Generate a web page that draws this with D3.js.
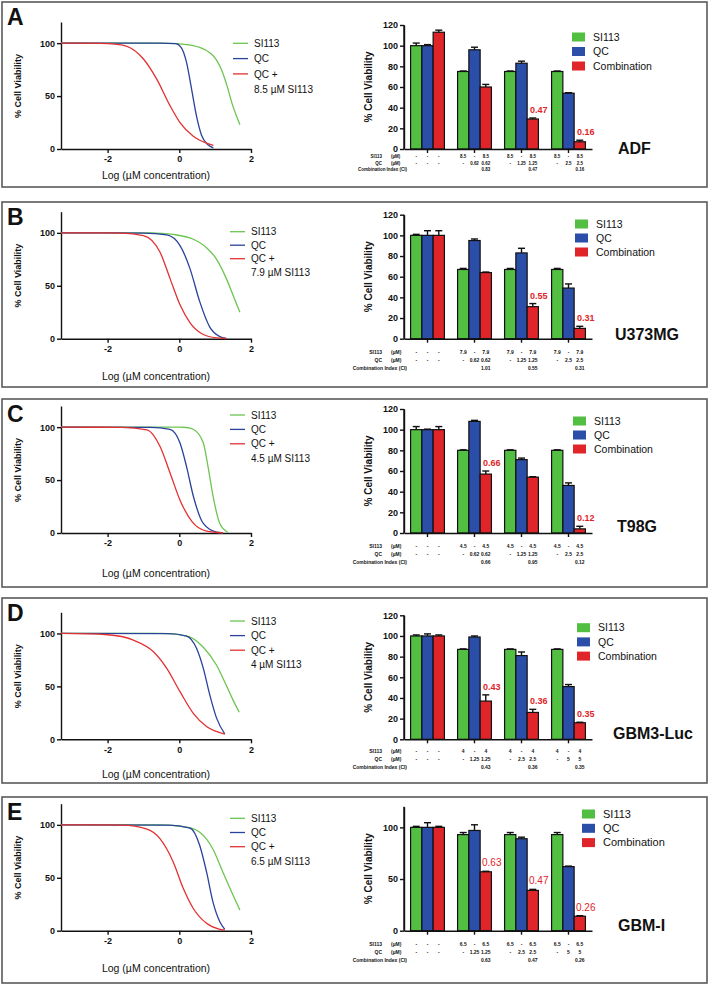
<!DOCTYPE html>
<html>
<head>
<meta charset="utf-8">
<script src="https://cdn.jsdelivr.net/npm/d3@7"></script>
<style>
  body { margin: 0; background: #fff; }
  text { font-family: "Liberation Sans", Arial, sans-serif; fill: #111; }
</style>
</head>
<body>
<svg id="fig"></svg>
<script>
// ---- data ----
var panelLetters = ["A", "B", "C", "D", "E"];
var cellLines = ["ADF", "U373MG", "T98G", "GBM3-Luc", "GBM-I"];
var seriesNames = ["SI113", "QC", "Combination"];
var groups = ["ctrl", "low", "mid", "high"];

var si113Dose = ["8.5", "7.9", "4.5", "4", "6.5"];
var qcDose = [
    ["0.62", "1.25", "2.5"],
    ["0.62", "1.25", "2.5"],
    ["0.62", "1.25", "2.5"],
    ["1.25", "2.5", "5"],
    ["1.25", "2.5", "5"]
];
var ciValue = [
    ["0.83", "0.47", "0.16"],
    ["1.01", "0.55", "0.31"],
    ["0.66", "0.95", "0.12"],
    ["0.43", "0.36", "0.35"],
    ["0.63", "0.47", "0.26"]
];
var ciShown = [
    [false, true, true],
    [false, true, true],
    [true, false, true],
    [true, true, true],
    [true, true, true]
];

var si113Mean = [[100, 75, 75, 75], [100, 67, 67, 67], [100, 80, 80, 80], [100, 87, 87, 87], [100, 93, 93, 93]];
var si113Err = [[2.5, 0.5, 0.5, 0.5], [1, 1, 1, 1], [3, 0.5, 0.5, 0.5], [1, 0.5, 0.5, 0.5], [1, 2, 2, 2]];
var qcMean = [[100, 96, 83, 54], [100, 95, 83, 49], [100, 108, 71, 46], [100, 99, 81, 51], [100, 97, 89, 62]];
var qcErr = [[1, 2.5, 2, 0.5], [4.5, 1.5, 4.5, 4], [0.5, 1, 1.5, 2.5], [2, 1, 3.5, 2], [4.5, 5.5, 1.5, 0.5]];
var comboMean = [[113, 60, 29, 7], [100, 64, 31, 10], [100, 57, 54, 4], [100, 37, 26, 16], [100, 57, 39, 14]];
var comboErr = [[2, 2.5, 1, 1.5], [4.5, 0.5, 3, 2], [3, 3, 0.5, 2.5], [1, 6, 3, 0.5], [1, 0.5, 1, 0.5]];

var barTicks = [
    [0, 20, 40, 60, 80, 100, 120],
    [0, 20, 40, 60, 80, 100, 120],
    [0, 20, 40, 60, 80, 100, 120],
    [0, 20, 40, 60, 80, 100, 120],
    [0, 50, 100]
];

// dose-response curves: [log uM, % viability]
var curveSI113 = [
    [[-3.3, 100], [-1, 100], [-0.35, 99.8], [0.1, 99], [0.57, 96], [0.85, 91], [1.04, 84], [1.2, 73], [1.31, 62], [1.5, 40], [1.69, 23]],
    [[-3.3, 100], [-0.8, 100], [-0.17, 98.5], [0.39, 94], [0.76, 86], [1.04, 75], [1.31, 57], [1.5, 41], [1.69, 25]],
    [[-3.3, 100], [0, 100], [0.2, 99.7], [0.39, 98], [0.67, 85], [0.8, 63], [0.94, 35], [1.13, 9], [1.36, 0.5]],
    [[-3.3, 100], [-0.5, 100], [0.2, 97.8], [0.67, 87], [1.04, 70], [1.31, 51], [1.5, 37], [1.67, 25.5]],
    [[-3.3, 100], [-0.6, 100], [0.2, 97.8], [0.57, 93], [0.94, 77], [1.22, 55], [1.5, 33.5], [1.69, 19.5]]
];
var curveQC = [
    [[-3.3, 100], [-0.5, 100], [-0.1, 99.5], [0.05, 96], [0.2, 82], [0.34, 57], [0.48, 31], [0.62, 13], [0.8, 4], [0.95, 1]],
    [[-3.3, 100], [-1, 99.8], [-0.35, 98], [0.02, 88], [0.3, 66], [0.57, 35], [0.85, 11], [1.13, 2], [1.31, 0.3]],
    [[-3.3, 100], [-0.8, 99.8], [-0.26, 98], [0.02, 85], [0.2, 63], [0.39, 35], [0.67, 9], [1.04, 0.8], [1.22, 0.2]],
    [[-3.3, 100], [-0.3, 99.8], [0.2, 97.5], [0.48, 86], [0.67, 67], [0.85, 42], [1.04, 20], [1.27, 5]],
    [[-3.3, 100], [-0.3, 99.8], [0.3, 97], [0.57, 80.5], [0.76, 55.5], [0.94, 27], [1.13, 8.5], [1.27, 1.3]]
];
var curveCombo = [
    [[-3.3, 100], [-2.2, 99.8], [-1.8, 99], [-1.46, 97], [-1, 85], [-0.63, 66], [-0.26, 41], [0.02, 25], [0.39, 12], [0.76, 5.5], [0.95, 3.5]],
    [[-3.3, 100], [-1.6, 99.8], [-1, 97.5], [-0.54, 82], [-0.26, 57], [0.02, 32], [0.3, 15], [0.67, 4], [1.04, 0.8], [1.31, 0.2]],
    [[-3.3, 100], [-1.6, 99.8], [-0.9, 97.5], [-0.54, 82], [-0.26, 57], [0.02, 31], [0.35, 11], [0.76, 1.8], [1.22, 0.2]],
    [[-3.3, 100], [-2, 98.8], [-1.28, 93.7], [-0.72, 82.7], [-0.35, 67], [0.02, 45], [0.39, 24.5], [0.76, 12], [1.27, 5]],
    [[-3.3, 100], [-1.6, 99.8], [-0.9, 96], [-0.54, 87], [-0.17, 65], [0.11, 40], [0.39, 21], [0.76, 7], [1.13, 1.3], [1.27, 0.6]]
];

// ---- layout (pixel positions per panel) ----
var layout = [
    { top: 2,   bottom: 187, y0: 149,   legY: 43.3,  legStep: 15.3, legX: 233, barLegY: 37,    barLegStep: 14.5, barLegX: 572, rows: [9, 15.5, 22],     nameX: 618, nameDy: 5,    xLabY: 179 },
    { top: 202, bottom: 387, y0: 338.7, legY: 231.7, legStep: 13.5, legX: 230, barLegY: 224,   barLegStep: 14,   barLegX: 575, rows: [14.8, 23.2, 31.2], nameX: 615, nameDy: 1.5,  xLabY: 380 },
    { top: 399, bottom: 587, y0: 533,   legY: 415,   legStep: 14.4, legX: 230, barLegY: 421,   barLegStep: 14,   barLegX: 573, rows: [14.5, 22.5, 31],   nameX: 617, nameDy: -1.3, xLabY: 576.5 },
    { top: 598, bottom: 783, y0: 739.3, legY: 621,   legStep: 14.6, legX: 230, barLegY: 627.7, barLegStep: 14.2, barLegX: 577, rows: [13.2, 21.7, 29.7], nameX: 613, nameDy: 0,    xLabY: 777.5 },
    { top: 797, bottom: 983, y0: 930.7, legY: 818.3, legStep: 14.2, legX: 230, barLegY: 814,   barLegStep: 14.3, barLegX: 582, rows: [15.3, 22.8, 30.8], nameX: 618, nameDy: 0,    xLabY: 972 }
];

var barColors = ["#52bf42", "#2b4ea8", "#e0252a"];
var curveColors = ["#6cc551", "#2a429c", "#e33131"];

var svg = d3.select("#fig").attr("width", 709).attr("height", 985);

function styleAxis(sel) {
    sel.selectAll("path, line").attr("stroke", "#111").attr("stroke-width", 1.4);
    sel.selectAll("text").attr("fill", "#111")
        .style("font-size", "9px").style("font-weight", "bold")
        .style("font-family", "'Liberation Sans', Arial, sans-serif");
}

panelLetters.forEach(function (letter, i) {
    var L = layout[i];
    var g = svg.append("g");

    // panel frame + letter
    g.append("rect")
        .attr("x", 2).attr("y", L.top)
        .attr("width", 705).attr("height", L.bottom - L.top)
        .attr("fill", "none").attr("stroke", "#5a5a5a").attr("stroke-width", 1.6);
    g.append("text").attr("x", 7).attr("y", L.top + 23)
        .style("font-size", "23px").style("font-weight", "bold").text(letter);

    // ---------- left: dose-response curves ----------
    var xL = d3.scaleLinear().domain([-3.3, 2]).range([61, 251]);
    var yL = d3.scaleLinear().domain([0, 120]).range([L.y0, L.y0 - 127]);

    g.append("g").attr("transform", "translate(0," + L.y0 + ")")
        .call(d3.axisBottom(xL).tickValues([-2, 0, 2]).tickFormat(String).tickSize(4).tickSizeOuter(0).tickPadding(3))
        .call(styleAxis);
    g.append("g").attr("transform", "translate(61,0)")
        .call(d3.axisLeft(yL).tickValues([0, 50, 100]).tickSize(4).tickSizeOuter(0).tickPadding(2))
        .call(styleAxis);

    var line = d3.line()
        .x(function (d) { return xL(d[0]); })
        .y(function (d) { return yL(d[1]); })
        .curve(d3.curveMonotoneX);

    [curveSI113[i], curveQC[i], curveCombo[i]].forEach(function (pts, s) {
        g.append("path").datum(pts)
            .attr("d", line)
            .attr("fill", "none")
            .attr("stroke", curveColors[s])
            .attr("stroke-width", 1.3);
    });

    g.append("text")
        .attr("transform", "translate(18," + (L.y0 - 63) + ") rotate(-90)")
        .attr("text-anchor", "middle").attr("dy", "0.35em")
        .style("font-size", "9px").style("font-weight", "bold")
        .text("% Cell Viability");
    g.append("text").attr("x", 156).attr("y", L.xLabY)
        .attr("text-anchor", "middle").style("font-size", "10.5px")
        .text("Log (\u00b5M concentration)");

    // line legend
    var legLabels = ["SI113", "QC", "QC +", si113Dose[i] + " \u00b5M SI113"];
    legLabels.forEach(function (lab, k) {
        var cy = L.legY + k * L.legStep;
        if (k < 3) {
            g.append("line")
                .attr("x1", L.legX).attr("x2", L.legX + 15)
                .attr("y1", cy).attr("y2", cy)
                .attr("stroke", curveColors[k]).attr("stroke-width", 1.3);
        }
        g.append("text").attr("x", L.legX + 21).attr("y", cy + 3.6)
            .style("font-size", "10px").text(lab);
    });

    // ---------- right: grouped bars ----------
    var x0 = d3.scaleBand().domain(groups).range([404, 592]).paddingInner(0.28).paddingOuter(0.14);
    var x1 = d3.scaleBand().domain(seriesNames).range([0, x0.bandwidth()]);
    var yB = d3.scaleLinear().domain([0, 120]).range([L.y0, L.y0 - 124]);

    var means = [si113Mean[i], qcMean[i], comboMean[i]];
    var errs = [si113Err[i], qcErr[i], comboErr[i]];

    var barData = [];
    groups.forEach(function (grp, j) {
        seriesNames.forEach(function (s, k) {
            barData.push({ group: grp, gi: j, series: s, si: k, mean: means[k][j], err: errs[k][j] });
        });
    });

    g.append("g").selectAll("rect").data(barData).enter().append("rect")
        .attr("x", function (d) { return x0(d.group) + x1(d.series); })
        .attr("y", function (d) { return yB(d.mean); })
        .attr("width", x1.bandwidth())
        .attr("height", function (d) { return L.y0 - yB(d.mean); })
        .attr("fill", function (d) { return barColors[d.si]; })
        .attr("stroke", "#111").attr("stroke-width", 1.2);

    // upward error bars
    var eb = g.append("g").attr("stroke", "#111").attr("stroke-width", 1.4);
    barData.forEach(function (d) {
        var cx = x0(d.group) + x1(d.series) + x1.bandwidth() / 2;
        eb.append("line").attr("x1", cx).attr("x2", cx)
            .attr("y1", yB(d.mean)).attr("y2", yB(d.mean + d.err));
        eb.append("line").attr("x1", cx - 3.5).attr("x2", cx + 3.5)
            .attr("y1", yB(d.mean + d.err)).attr("y2", yB(d.mean + d.err));
    });

    g.append("g").attr("transform", "translate(0," + L.y0 + ")")
        .call(d3.axisBottom(x0).tickFormat("").tickSize(4).tickSizeOuter(0))
        .call(styleAxis);
    g.append("g").attr("transform", "translate(404,0)")
        .call(d3.axisLeft(yB).tickValues(barTicks[i]).tickSize(4).tickSizeOuter(0).tickPadding(2))
        .call(styleAxis);
    // y axis runs up to 120 even where ticks stop at 100
    g.append("line").attr("x1", 404).attr("x2", 404)
        .attr("y1", L.y0).attr("y2", yB(120))
        .attr("stroke", "#111").attr("stroke-width", 1.4);

    g.append("text")
        .attr("transform", "translate(368," + (L.y0 - 62) + ") rotate(-90)")
        .attr("text-anchor", "middle").attr("dy", "0.35em")
        .style("font-size", "10px").style("font-weight", "bold")
        .text("% Cell Viability");

    // red CI values above combination bars
    var isE = (i === 4);
    [1, 2, 3].forEach(function (j) {
        if (!ciShown[i][j - 1]) return;
        var cx = x0(groups[j]) + x1("Combination") + x1.bandwidth() / 2;
        g.append("text")
            .attr("x", cx + 6)
            .attr("y", yB(comboMean[i][j] + comboErr[i][j]) - 5)
            .attr("text-anchor", "middle")
            .style("fill", "#e0252a")
            .style("font-size", isE ? "10px" : "9px")
            .style("font-weight", isE ? "normal" : "bold")
            .text(ciValue[i][j - 1]);
    });

    // bar legend
    seriesNames.forEach(function (s, k) {
        var cy = L.barLegY + k * L.barLegStep;
        g.append("rect").attr("x", L.barLegX).attr("y", cy - 4.5)
            .attr("width", 13).attr("height", 9).attr("fill", barColors[k]);
        g.append("text").attr("x", L.barLegX + 21).attr("y", cy + 3.6)
            .style("font-size", isE ? "11px" : "10.5px").text(s);
    });

    // cell line name
    g.append("text").attr("x", L.nameX).attr("y", L.y0 + L.nameDy)
        .style("font-size", "16px").style("font-weight", "bold")
        .text(cellLines[i]);

    // treatment table under the bars (condensed bold text)
    var rowY = L.rows.map(function (r) { return L.y0 + r; });
    var fs = (i === 0) ? "5.6px" : "6.2px";
    var tbl = g.append("g");
    function cell(x, y, anchor, txt) {
        tbl.append("text")
            .attr("transform", "translate(" + x + "," + y + ") scale(0.8,1)")
            .attr("text-anchor", anchor)
            .style("font-size", fs).style("font-weight", "bold")
            .text(txt);
    }
    cell(382, rowY[0], "end", "SI113");
    cell(391, rowY[0], "start", "(\u00b5M)");
    cell(382, rowY[1], "end", "QC");
    cell(391, rowY[1], "start", "(\u00b5M)");
    cell(407, rowY[2], "end", "Combination Index (CI)");

    groups.forEach(function (grp, j) {
        var row1, row2, row3;
        if (j === 0) {
            row1 = ["-", "-", "-"]; row2 = ["-", "-", "-"]; row3 = ["", "", ""];
        } else {
            row1 = [si113Dose[i], "-", si113Dose[i]];
            row2 = ["-", qcDose[i][j - 1], qcDose[i][j - 1]];
            row3 = ["", "", ciValue[i][j - 1]];
        }
        seriesNames.forEach(function (s, k) {
            var cx = x0(grp) + x1(s) + x1.bandwidth() / 2;
            [row1, row2, row3].forEach(function (row, r) {
                if (row[k]) cell(cx, rowY[r], "middle", row[k]);
            });
        });
    });
});
</script>
</body>
</html>
